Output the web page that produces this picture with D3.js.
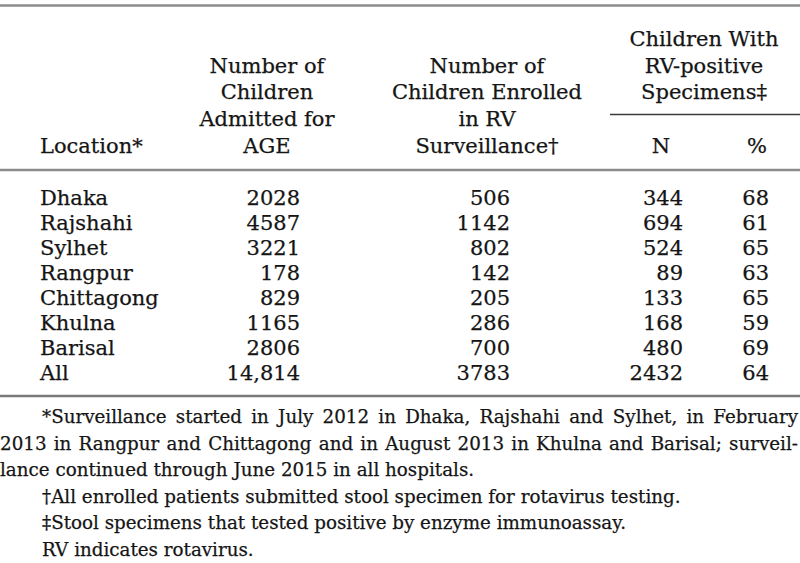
<!DOCTYPE html>
<html>
<head>
<meta charset="utf-8">
<script src="https://cdn.jsdelivr.net/npm/d3@7"></script>
<style>
  html, body { margin: 0; padding: 0; background: #fff; }
  svg { display: block; }
  text { font-family: "DejaVu Serif", serif; fill: #151515; stroke: #151515; stroke-width: 0.25px; }
</style>
</head>
<body>
<script>
// ---- data ----
const locations = ["Dhaka", "Rajshahi", "Sylhet", "Rangpur", "Chittagong", "Khulna", "Barisal", "All"];
const admitted  = [2028, 4587, 3221, 178, 829, 1165, 2806, 14814];
const enrolled  = [506, 1142, 802, 142, 205, 286, 700, 3783];
const rvN       = [344, 694, 524, 89, 133, 168, 480, 2432];
const rvPct     = [68, 61, 65, 63, 65, 59, 69, 64];

const headLocation = ["Location*"];
const headAdmitted = ["Number of", "Children", "Admitted for", "AGE"];
const headEnrolled = ["Number of", "Children Enrolled", "in RV", "Surveillance\u2020"];
const headGroup    = ["Children With", "RV-positive", "Specimens\u2021"];
const headSub      = ["N", "%"];

const footLines = [
  "*Surveillance started in July 2012 in Dhaka, Rajshahi and Sylhet, in February",
  "2013 in Rangpur and Chittagong and in August 2013 in Khulna and Barisal; surveil-",
  "lance continued through June 2015 in all hospitals.",
  "\u2020All enrolled patients submitted stool specimen for rotavirus testing.",
  "\u2021Stool specimens that tested positive by enzyme immunoassay.",
  "RV indicates rotavirus."
];

// ---- layout ----
const W = 800, H = 563;
const svg = d3.select("body").append("svg").attr("width", W).attr("height", H);

const fmt = v => v >= 10000 ? d3.format(",")(v) : String(v);

const TABLE_FS = 21;
const FOOT_FS = 18.3;

// column scale (right edges for numeric columns, left edge for location)
const colX = d3.scaleOrdinal()
  .domain(["loc", "admitted", "enrolled", "n", "pct"])
  .range([40, 300, 510, 683, 769]);
const headCenter = d3.scaleOrdinal()
  .domain(["admitted", "enrolled", "group", "n", "pct"])
  .range([267, 487, 704, 661, 757]);

// row scale
const rowY = d3.scalePoint().domain(locations).range([205, 380]);
// header line scale (baselines)
const headY = d3.scaleLinear().domain([0, 4]).range([46, 152.5]);

// rules
const rule = (y, x1, x2, w, c) => svg.append("line")
  .attr("x1", x1).attr("x2", x2).attr("y1", y).attr("y2", y)
  .attr("stroke", c).attr("stroke-width", w);
rule(5.5, 0, W, 2.5, "#8c8c8c");
rule(170, 0, W, 2.5, "#8c8c8c");
rule(396, 0, W, 2.5, "#7a7a7a");
rule(114.5, 610, W, 1.4, "#3a3a3a");

const g = svg.append("g").attr("font-size", TABLE_FS);

// header
g.append("text").attr("x", colX("loc")).attr("y", headY(4)).text(headLocation[0]);
g.selectAll(".ha").data(headAdmitted).join("text").attr("class", "ha")
  .attr("x", headCenter("admitted")).attr("y", (d, i) => headY(i + 1))
  .attr("text-anchor", "middle").text(d => d);
g.selectAll(".he").data(headEnrolled).join("text").attr("class", "he")
  .attr("x", headCenter("enrolled")).attr("y", (d, i) => headY(i + 1))
  .attr("text-anchor", "middle").text(d => d);
g.selectAll(".hg").data(headGroup).join("text").attr("class", "hg")
  .attr("x", headCenter("group")).attr("y", (d, i) => headY(i))
  .attr("text-anchor", "middle").text(d => d);
g.selectAll(".hs").data(headSub).join("text").attr("class", "hs")
  .attr("x", (d, i) => headCenter(i ? "pct" : "n")).attr("y", headY(4))
  .attr("text-anchor", "middle").text(d => d);

// body
const rows = locations.map((loc, i) => ({loc, a: admitted[i], e: enrolled[i], n: rvN[i], p: rvPct[i]}));
const rg = g.selectAll(".row").data(rows).join("g").attr("class", "row")
  .attr("transform", d => `translate(0,${rowY(d.loc)})`);
rg.append("text").attr("x", colX("loc")).text(d => d.loc);
rg.append("text").attr("x", colX("admitted")).attr("text-anchor", "end").text(d => fmt(d.a));
rg.append("text").attr("x", colX("enrolled")).attr("text-anchor", "end").text(d => fmt(d.e));
rg.append("text").attr("x", colX("n")).attr("text-anchor", "end").text(d => fmt(d.n));
rg.append("text").attr("x", colX("pct")).attr("text-anchor", "end").text(d => d.p);

// footnotes
const footY = d3.scaleLinear().domain([0, 5]).range([423, 556]);
const indent = [42, 0, 0, 42, 42, 42];
const justify = [true, true, false, false, false, false];
const fg = svg.append("g").attr("font-size", FOOT_FS);
footLines.forEach((line, i) => {
  const y = footY(i);
  if (!justify[i]) {
    fg.append("text").attr("x", indent[i]).attr("y", y).text(line);
    return;
  }
  const words = line.split(" ");
  const widths = words.map(w => {
    const t = fg.append("text").text(w);
    const wd = t.node().getComputedTextLength();
    t.remove();
    return wd;
  });
  const total = d3.sum(widths);
  const avail = 798 - indent[i];
  const gap = (avail - total) / (words.length - 1);
  let x = indent[i];
  words.forEach((w, k) => {
    fg.append("text").attr("x", x).attr("y", y).text(w);
    x += widths[k] + gap;
  });
});
</script>
</body>
</html>
